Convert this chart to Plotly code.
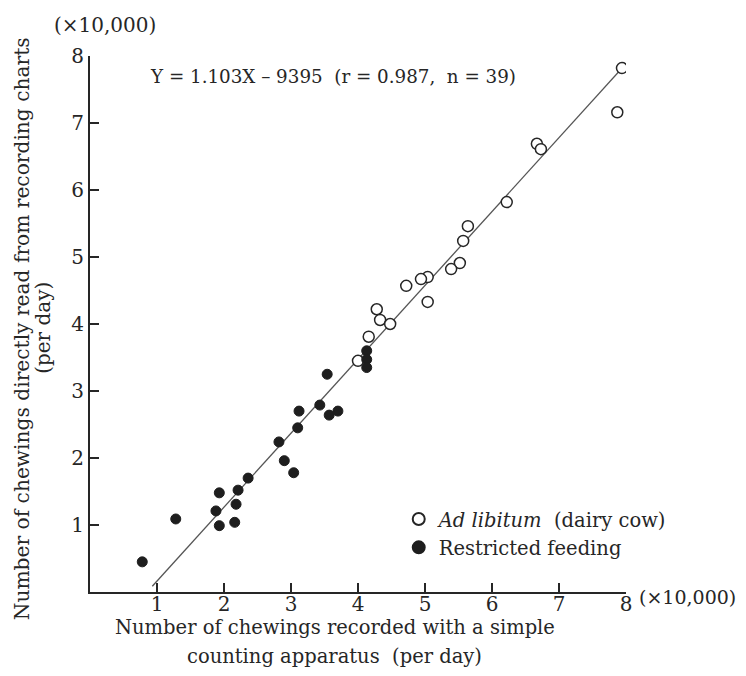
import plotly.graph_objects as go

# Data (units of 10,000 chewings per day)
adlib_x = [7.94, 7.87, 6.67, 6.73, 6.22, 5.64, 5.57, 5.52, 5.39, 5.04, 4.94, 5.04, 4.72, 4.28, 4.33, 4.48, 4.16, 4.00]
adlib_y = [7.82, 7.16, 6.69, 6.61, 5.82, 5.46, 5.24, 4.91, 4.82, 4.70, 4.67, 4.33, 4.57, 4.22, 4.06, 4.00, 3.81, 3.45]

restr_x = [0.78, 1.28, 1.93, 1.88, 1.93, 2.21, 2.18, 2.16, 2.36, 2.82, 2.90, 3.04, 3.10, 3.12, 3.43, 3.54, 3.57, 3.70, 4.13, 4.13, 4.13]
restr_y = [0.45, 1.09, 1.48, 1.21, 0.99, 1.52, 1.31, 1.04, 1.70, 2.24, 1.96, 1.78, 2.45, 2.70, 2.79, 3.25, 2.64, 2.70, 3.60, 3.47, 3.35]

slope = 1.103
intercept = -0.9395  # -9395 / 10,000
line_x = [0.93, 8.12]
line_y = [slope * v + intercept for v in line_x]

tick_vals = [1, 2, 3, 4, 5, 6, 7, 8]
tick_text = ["1", "2", "3", "4", "5", "6", "7", "8"]

FONT = "DejaVu Serif"
INK = "#262626"

fig = go.Figure()
fig.add_trace(go.Scatter(x=line_x, y=line_y, mode="lines",
                         line=dict(color="#555555", width=1.3),
                         showlegend=False, hoverinfo="skip"))
fig.add_trace(go.Scatter(x=adlib_x, y=adlib_y, mode="markers",
                         name="<i>Ad libitum</i>  (dairy cow)",
                         marker=dict(symbol="circle", size=11, color="white",
                                     line=dict(color=INK, width=1.5))))
fig.add_trace(go.Scatter(x=restr_x, y=restr_y, mode="markers",
                         name="Restricted feeding",
                         marker=dict(symbol="circle", size=10, color="#1e1e1e",
                                     line=dict(color="#1e1e1e", width=1))))

axis_common = dict(
    range=[0, 8], tickvals=tick_vals, ticktext=tick_text,
    ticks="inside", ticklen=9, tickwidth=1.6, tickcolor=INK,
    showline=True, linewidth=2, linecolor=INK,
    showgrid=False, zeroline=False, mirror=False,
    tickfont=dict(family=FONT, size=20, color=INK),
)

fig.update_layout(
    width=738, height=668,
    margin=dict(l=82, r=120, t=48, b=84),
    paper_bgcolor="white", plot_bgcolor="white",
    font=dict(family=FONT, size=19, color=INK),
    xaxis=dict(**axis_common, ticklabelstandoff=-7),
    yaxis=dict(**axis_common),
    legend=dict(x=0.576, y=0.172, xanchor="left", yanchor="top",
                bgcolor="rgba(0,0,0,0)", itemsizing="constant",
                font=dict(family=FONT, size=19.5, color=INK), tracegroupgap=8),
    showlegend=True,
)

annos = [
    dict(text="Y = 1.103X – 9395  (r = 0.987,  n = 39)", x=0.108, y=0.961,
         xanchor="left", yanchor="middle", font=dict(size=18.3)),
    dict(text="(×10,000)", x=-0.071, y=1.058, xanchor="left", yanchor="middle",
         font=dict(size=20)),
    dict(text="(×10,000)", x=1.021, y=-0.01, xanchor="left", yanchor="middle",
         font=dict(size=19)),
    dict(text="Number of chewings recorded with a simple", x=0.457, y=-0.066,
         xanchor="center", yanchor="middle", font=dict(size=19.5)),
    dict(text="counting apparatus  (per day)", x=0.457, y=-0.12,
         xanchor="center", yanchor="middle", font=dict(size=19.5)),
    dict(text="Number of chewings directly read from recording charts", x=-0.127, y=0.492,
         xanchor="center", yanchor="middle", textangle=-90, font=dict(size=20.2)),
    dict(text="(per day)", x=-0.0866, y=0.492,
         xanchor="center", yanchor="middle", textangle=-90, font=dict(size=20)),
]
for a in annos:
    a.update(xref="paper", yref="paper", showarrow=False)
    a["font"] = dict(family=FONT, color=INK, **a["font"])
    fig.add_annotation(**a)

fig.write_html("out.html")
